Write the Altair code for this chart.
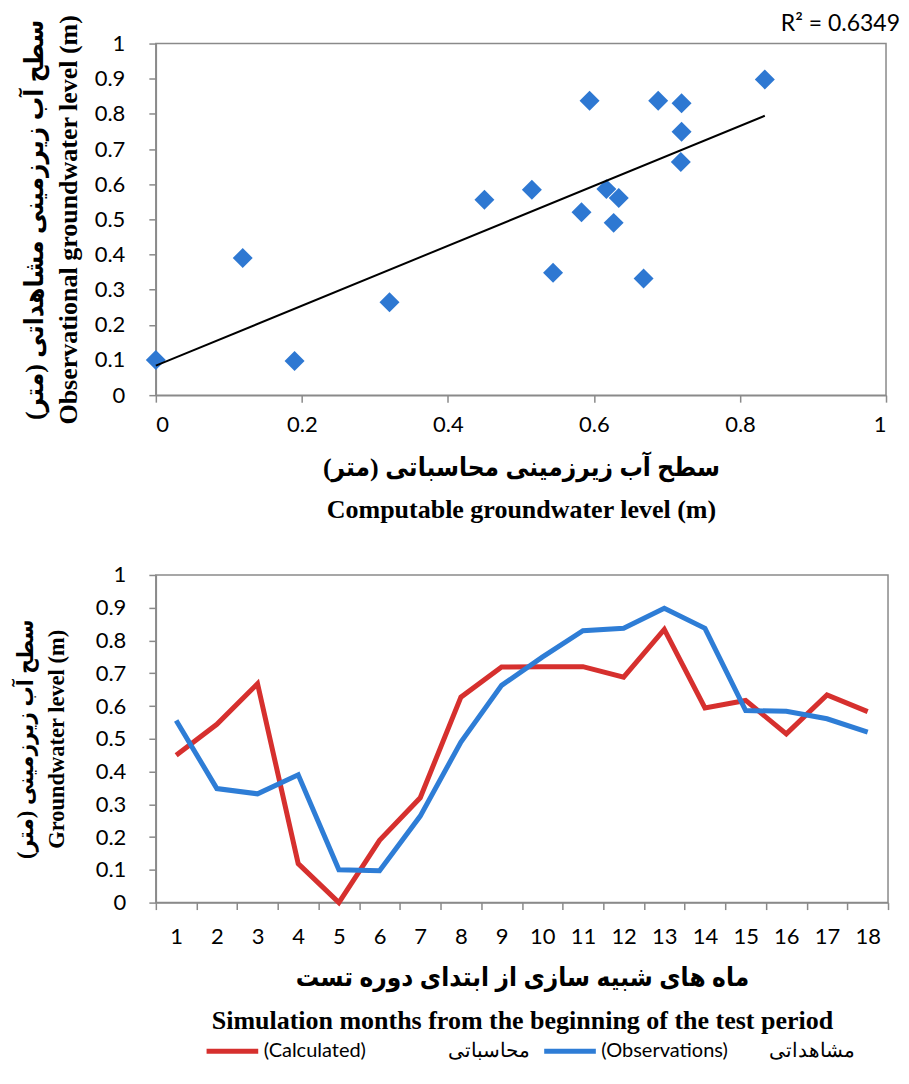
import altair as alt
import pandas as pd

# ---- data ----
months = list(range(1, 19))
calculated = [0.45, 0.544, 0.668, 0.119, 0.0, 0.19, 0.32, 0.627, 0.719, 0.72,
              0.72, 0.688, 0.834, 0.594, 0.617, 0.515, 0.634, 0.583]
observed = [0.556, 0.348, 0.332, 0.39, 0.10, 0.097, 0.264, 0.49, 0.663, 0.749,
            0.83, 0.837, 0.898, 0.837, 0.586, 0.584, 0.561, 0.52]

x_ticks_top = [0, 0.2, 0.4, 0.6, 0.8, 1]
y_ticks = [0, 0.1, 0.2, 0.3, 0.4, 0.5, 0.6, 0.7, 0.8, 0.9, 1]

r2_label = ["R² = 0.6349"]
r2_anchor_x = [1]   # label anchored at the top-right corner of the scatter
r2_anchor_y = [1]
top_x_title = ["سطح آب زیرزمینی محاسباتی (متر)", "Computable groundwater level (m)"]
top_y_title = ["سطح آب زیرزمینی مشاهداتی (متر)", "Observational groundwater level (m)"]
bot_x_title = ["ماه های شبیه سازی از ابتدای دوره تست",
               "Simulation months from the beginning of the test period"]
bot_y_title = ["سطح آب زیرزمینی (متر)", "Groundwater level (m)"]
NB = "\u00a0"
series_names = ["(Calculated)" + NB * 16 + "محاسباتی",
                "(Observations)" + NB * 8 + "مشاهداتی"]
series_colors = ["#D6302E", "#2E7DD6"]

GRAY = "#8a8a8a"
TICK_FONT = "Lato"
TITLE_FONT = "Liberation Serif, DejaVu Sans Condensed, DejaVu Sans"

# ---- top: scatter with trend line ----
scatter_df = pd.DataFrame({"calc": calculated, "obs": observed})
r2_df = pd.DataFrame({"calc": r2_anchor_x, "obs": r2_anchor_y, "label": r2_label})


def x_top():
    return alt.X("calc:Q", scale=alt.Scale(domain=[0, 1], nice=False),
                 axis=alt.Axis(values=x_ticks_top, format="~g", title=top_x_title,
                               labelPadding=12, titlePadding=19, titleFontSize=26,
                               titleLineHeight=42))


def y_top():
    return alt.Y("obs:Q", scale=alt.Scale(domain=[0, 1], nice=False),
                 axis=alt.Axis(values=y_ticks, format="~g", title=top_y_title,
                               labelPadding=24, titlePadding=13, titleFontSize=26,
                               titleLineHeight=34))


points = alt.Chart(scatter_df).mark_point(
    shape="diamond", filled=True, size=400, color="#2E78D2", opacity=1
).encode(x=x_top(), y=y_top())
trend = alt.Chart(scatter_df).transform_regression("calc", "obs").mark_line(
    color="black", strokeWidth=2).encode(x=x_top(), y=y_top())
r2_text = alt.Chart(r2_df).mark_text(
    align="right", baseline="bottom", dx=14, dy=-8, font=TICK_FONT,
    fontSize=23, color="black").encode(x=x_top(), y=y_top(), text="label:N")

top = alt.layer(points, trend, r2_text).properties(width=731, height=352)

# ---- bottom: time series ----
line_df = pd.DataFrame({
    "month": months * 2,
    "value": calculated + observed,
    "series": [series_names[0]] * 18 + [series_names[1]] * 18,
})
lbase = alt.Chart(line_df)
x_bot = alt.X("month:O", scale=alt.Scale(type="band", paddingInner=0, paddingOuter=0),
              axis=alt.Axis(labelAngle=0, title=bot_x_title, tickBand="extent",
                            labelPadding=17, titlePadding=17, titleFontSize=26,
                            titleLineHeight=43))
y_bot = alt.Y("value:Q", scale=alt.Scale(domain=[0, 1], nice=False),
              axis=alt.Axis(values=y_ticks, format="~g", title=bot_y_title,
                            labelPadding=23, titlePadding=27, titleFontSize=22.5,
                            titleLineHeight=31))
color = alt.Color("series:N", scale=alt.Scale(domain=series_names, range=series_colors),
                  legend=alt.Legend(title=None, orient="none", direction="horizontal",
                                    legendX=78, legendY=463,
                                    symbolType="M-3.7,0H1", symbolSize=484,
                                    symbolStrokeWidth=5,
                                    labelFont=TICK_FONT, labelFontSize=20,
                                    labelColor="black", columnPadding=3,
                                    labelOffset=3, labelLimit=0))

red_line = lbase.transform_filter(alt.datum.series == series_names[0]).mark_line(
    strokeWidth=5).encode(x=x_bot, y=y_bot, color=color)
blue_line = lbase.transform_filter(alt.datum.series == series_names[1]).mark_line(
    strokeWidth=5).encode(x=x_bot, y=y_bot, color=color)

bottom = alt.layer(red_line, blue_line).properties(width=733, height=328)

chart = alt.vconcat(
    top, bottom, spacing=40, background="white",
    padding={"left": 5, "top": 3, "right": 0, "bottom": 0},
).resolve_scale(color="independent").resolve_legend(color="independent").configure_view(
    stroke=GRAY, strokeWidth=1.5
).configure_axis(
    labelFont=TICK_FONT, labelFontSize=22, labelColor="black",
    domainColor=GRAY, tickColor=GRAY, domainWidth=1.5, tickWidth=1.5, tickSize=7,
    grid=False, titleFont=TITLE_FONT, titleFontWeight="bold",
    titleColor="black",
)

chart.save("out.html", embed_options={"renderer": "svg", "actions": False})
